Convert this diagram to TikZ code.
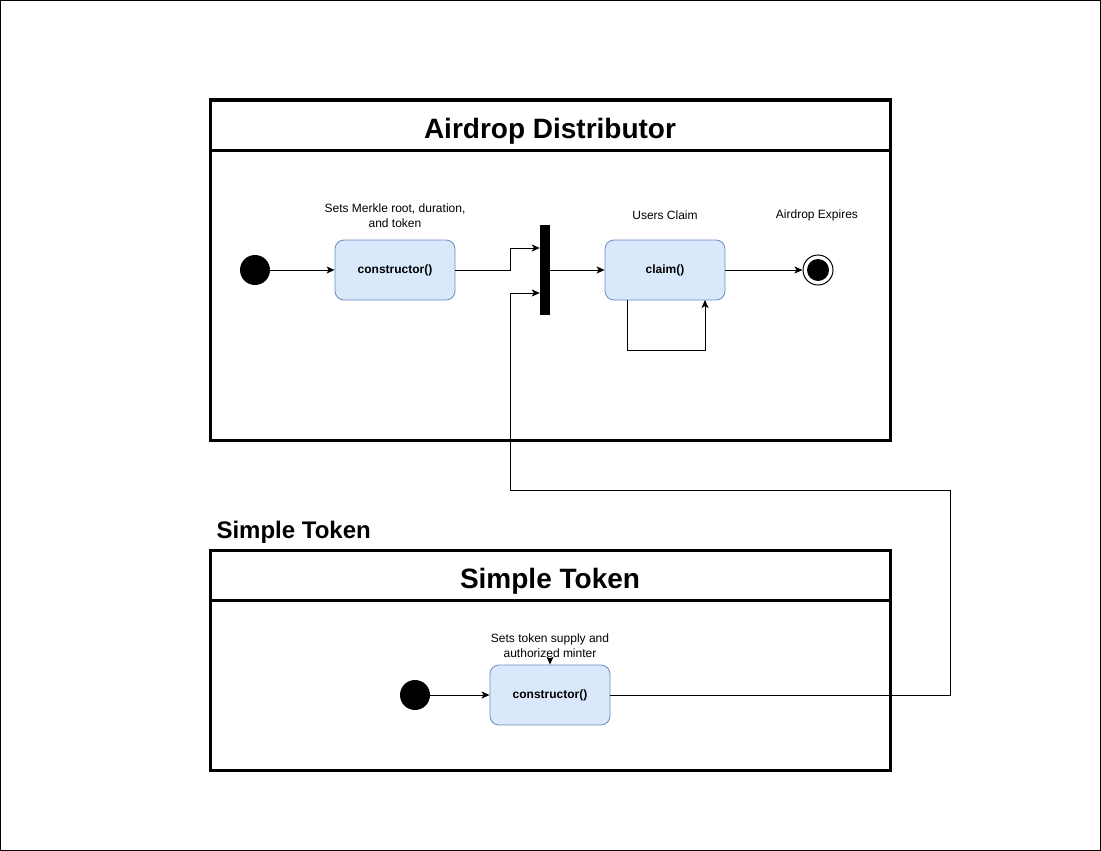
\documentclass[tikz,border=0pt]{standalone}
\usepackage{fontspec}
\setmainfont{Liberation Sans}
\usetikzlibrary{arrows.meta}
\definecolor{boxfill}{HTML}{DAE8FC}
\definecolor{boxdraw}{HTML}{6C8EBF}
\begin{document}
\begin{tikzpicture}[x=1pt,y=-1pt,
  frame/.style={draw=black,line width=3pt},
  actbox/.style={draw=boxdraw,fill=boxfill,rounded corners=9pt,minimum width=120pt,minimum height=60pt,line width=0.8pt,inner sep=0pt,font=\fontsize{12}{14}\selectfont\bfseries},
  lbl/.style={font=\fontsize{12}{15}\selectfont,align=center,inner sep=0pt},
  conn/.style={draw=black,line width=1pt,-{Stealth[length=8pt,width=7pt,inset=2pt]}},
  startdot/.style={circle,fill=black,minimum size=30pt,inner sep=0pt},
  bar/.style={fill=black,minimum width=10pt,minimum height=90pt,inner sep=0pt}
]
\useasboundingbox (0,0) rectangle (1101,851);
\draw[line width=1pt] (0.5,0.5) rectangle (1100.5,850.5);

% Airdrop Distributor frame
\draw[frame] (210,100) rectangle (890,440);
\draw[frame] (210,150) -- (890,150);
\node[font=\fontsize{28}{32}\selectfont\bfseries] (t1) at (550,131) {Airdrop Distributor};

% Simple Token frame
\node[font=\fontsize{24}{28}\selectfont\bfseries,anchor=west] (t0) at (213,532) {Simple Token};
\draw[frame] (210,550) rectangle (890,770);
\draw[frame] (210,600) -- (890,600);
\node[font=\fontsize{28}{32}\selectfont\bfseries] (t2) at (550,581) {Simple Token};

% nodes top
\node[startdot] (s1) at (255,270) {};
\node[actbox] (c1) at (395,270) {constructor()};
\node[lbl] (l1) at (395,216) {Sets Merkle root, duration,\\and token};
\node[bar] (b) at (545,270) {};
\node[actbox] (cl) at (665,270) {claim()};
\node[lbl] (l2) at (665,215) {Users Claim};
\node[lbl] (l3) at (817,215) {Airdrop Expires};
\node[circle,draw=black,line width=1pt,minimum size=30pt,inner sep=0pt] (e) at (818,270) {};
\node[circle,fill=black,minimum size=22pt,inner sep=0pt] (ei) at (818,270) {};

% nodes bottom
\node[startdot] (s2) at (415,695) {};
\node[actbox] (c2) at (550,695) {constructor()};
\node[lbl] (l4) at (550,646) {Sets token supply and\\authorized minter};
\coordinate (a4) at (550,658);

% connectors
\draw[conn] (s1) -- (c1);
\draw[conn] (c1.east) -- (510,270) -- (510,248) -- (b.west |- 0,248);
\draw[conn] (b.east |- 0,270) -- (cl.west);
\draw[conn] (cl.east) -- (e.west);
\draw[conn] (627,300) -- (627,350) -- (705,350) -- (705,300);
\draw[conn] (s2) -- (c2);
\draw[conn] (c2.east) -- (950,695) -- (950,490) -- (510,490) -- (510,293) -- (b.west |- 0,293);
\draw[conn] (a4) -- (c2.north);
\end{tikzpicture}
\end{document}
